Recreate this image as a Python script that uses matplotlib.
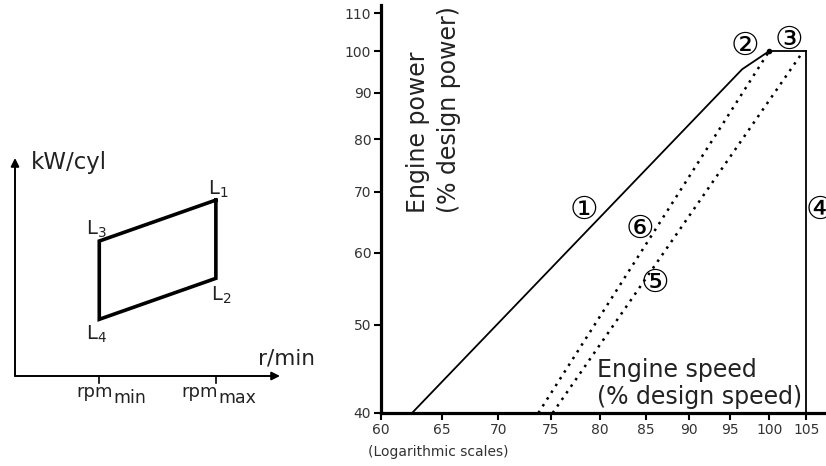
import numpy as np
import matplotlib.pyplot as plt

# right panel: engine speed / power (% of design), log-log
line1_speed = [62.5, 96.5, 100]
line1_power = [40, 95.5, 100]
line3_speed = [100, 105]
line3_power = [100, 100]
line4_speed = [105, 105]
line4_power = [100, 40]
line6_speed = [73.8, 100]
line6_power = [40, 100]
line5_speed = [75.2, 104.6]
line5_power = [40, 100]
xticks = [60, 65, 70, 75, 80, 85, 90, 95, 100, 105]
yticks = [40, 50, 60, 70, 80, 90, 100, 110]

# left panel: layout diagram (schematic units)
rpm_min, rpm_max = 0.318, 0.758
L_names = ["L_1", "L_2", "L_4", "L_3"]
L_speed = [rpm_max, rpm_max, rpm_min, rpm_min]
L_power = [0.807, 0.448, 0.260, 0.619]

fig = plt.figure(figsize=(8.26, 4.66), dpi=100)

# ---- left schematic
axl = fig.add_axes([15/826, (466-376)/466, 265/826, 218/466])
axl.set_xlim(0, 1)
axl.set_ylim(0, 1)
axl.axis("off")
arrow = dict(arrowstyle="-|>", color="black", lw=1.4, mutation_scale=12, shrinkA=0, shrinkB=0)
axl.annotate("", xy=(1, 0), xytext=(0, 0), arrowprops=arrow, annotation_clip=False)
axl.annotate("", xy=(0, 1), xytext=(0, 0), arrowprops=arrow, annotation_clip=False)
axl.plot(L_speed + L_speed[:1], L_power + L_power[:1], color="black", lw=2.6,
         solid_joinstyle="miter", clip_on=False)
for xt in [rpm_min, rpm_max]:
    axl.plot([xt, xt], [0, -0.03], color="black", lw=1.2, clip_on=False)
# rpm labels with a lowered, nearly full-size subscript
for xt, sub, shift in [(rpm_min, "min", 0.052), (rpm_max, "max", 0.008)]:
    axl.text(xt + shift, -0.096, "rpm", ha="right", va="baseline", fontsize=13, color="#222")
    axl.text(xt + shift, -0.124, sub, ha="left", va="baseline", fontsize=12.5, color="#222")
axl.text(0.06, 0.98, "kW/cyl", ha="left", va="center", fontsize=16.5, color="#222")
axl.text(1.023, 0.08, "r/min", ha="center", va="center", fontsize=15.5, color="#222")
offs = [(0.01, 0.05), (0.02, -0.08), (-0.01, -0.07), (-0.01, 0.055)]
for name, x, y, (dx, dy) in zip(L_names, L_speed, L_power, offs):
    axl.text(x + dx, y + dy, "$\\mathregular{" + name + "}$", ha="center", va="center",
             fontsize=14, color="#222")

# ---- right chart
ax = fig.add_axes([381/826, 53/466, 445/826, 408/466])
ax.set_xscale("log")
ax.set_yscale("log")
ax.set_xlim(60, 60*np.exp(445/760))
ax.set_ylim(40, 40*np.exp(408/395))
ax.plot(line1_speed, line1_power, color="black", lw=1.3)
ax.plot(line3_speed, line3_power, color="black", lw=1.3)
ax.plot(line4_speed, line4_power, color="black", lw=1.3)
ax.plot(line6_speed, line6_power, color="black", lw=1.8, ls=(0, (1, 2.2)))
ax.plot(line5_speed, line5_power, color="black", lw=1.8, ls=(0, (1, 2.2)))
ax.plot([100], [100], "o", color="black", ms=3)

ax.xaxis.set_minor_locator(plt.NullLocator())
ax.yaxis.set_minor_locator(plt.NullLocator())
ax.set_xticks(xticks)
ax.set_xticklabels([str(v) for v in xticks])
ax.set_yticks(yticks)
ax.set_yticklabels([str(v) for v in yticks])
ax.tick_params(length=5, width=1.5, labelsize=10, labelcolor="#333", pad=2)
for s in ["top", "right"]:
    ax.spines[s].set_visible(False)
for s in ["left", "bottom"]:
    ax.spines[s].set_linewidth(2.3)

ax.text(64.3, 66.4, "Engine power\n(% design power)", rotation=90, ha="center", va="bottom",
        multialignment="left", fontsize=17, color="#222", linespacing=1.35)
ax.text(79.7, 40.4, "Engine speed\n(% design speed)", ha="left", va="bottom",
        fontsize=17, color="#222", linespacing=1.15)
ax.text(-0.03, -0.096, "(Logarithmic scales)", transform=ax.transAxes, ha="left", va="center",
        fontsize=10, color="#333")

labels = ["①", "②", "③", "④", "⑤", "⑥"]
label_pos = [(78.4, 66.9), (96.9, 101.1), (102.6, 102.8), (106.9, 66.9), (86.0, 55.6), (84.4, 63.6)]
for lab, (x, y) in zip(labels, label_pos):
    ax.text(x, y, lab, ha="center", va="center", fontsize=23, color="black", clip_on=False)

fig.savefig("out.png", dpi=100)
